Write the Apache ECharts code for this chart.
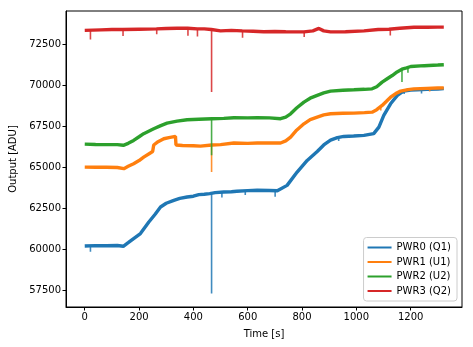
<!DOCTYPE html>
<html>
<head>
<meta charset="utf-8">
<script src="https://cdn.jsdelivr.net/npm/echarts@6/dist/echarts.min.js"></script>
<style>html,body{margin:0;padding:0;background:#fff}#c{width:473px;height:347px}</style>
</head>
<body>
<div id="c"></div>
<script>
var seriesNames = ['PWR0 (Q1)', 'PWR1 (U1)', 'PWR2 (U2)', 'PWR3 (Q2)'];
var xTicks = [0, 200, 400, 600, 800, 1000, 1200];
var yTicks = [57500, 60000, 62500, 65000, 67500, 70000, 72500];

// smooth trends (band)
var pwr0T = [0,40,80,120,142,160,180,205,236,260,279,300,328,350,377,400,420,440,460,480,512,540,560,600,635,680,709,745,782,819,856,880,905,930,954,990,1028,1064,1083,1101,1126,1151,1175,1200,1224,1260,1300,1322];
var pwr0V = [60200,60220,60210,60230,60180,60400,60650,60955,61660,62150,62575,62800,62980,63100,63180,63230,63330,63350,63390,63450,63490,63500,63530,63570,63590,63580,63560,63890,64700,65410,65950,66350,66650,66800,66870,66900,66935,67040,67440,68150,68860,69370,69640,69700,69710,69740,69760,69780];

var pwr1T = [0,40,80,120,144,160,180,200,217,240,250,254,270,291,310,334,336,360,400,426,468,500,549,600,635,680,721,740,758,780,807,830,856,880,905,950,991,1030,1058,1075,1095,1110,1126,1145,1163,1190,1212,1260,1300,1322];
var pwr1V = [65000,64990,64990,64980,64910,65050,65210,65400,65610,65850,65950,66350,66550,66730,66800,66870,66350,66320,66300,66280,66350,66370,66470,66450,66470,66480,66470,66600,66830,67250,67640,67900,68050,68180,68250,68280,68290,68320,68350,68500,68760,69000,69260,69480,69630,69720,69770,69800,69820,69830];

var pwr2T = [0,40,80,120,142,160,180,200,217,254,280,303,340,377,420,468,512,549,600,635,680,721,740,758,780,807,830,856,880,905,950,991,1030,1058,1075,1095,1115,1132,1150,1171,1185,1200,1250,1300,1322];
var pwr2V = [66400,66380,66370,66370,66330,66450,66630,66850,67040,67340,67530,67680,67800,67890,67920,67950,67970,68010,68000,68010,68000,67950,68050,68250,68600,68960,69200,69370,69520,69630,69680,69710,69740,69770,69900,70180,70400,70580,70800,70990,71050,71130,71180,71220,71240];

var pwr3T = [0,60,100,140,200,264,300,340,379,414,440,466,500,540,580,620,659,700,740,782,807,840,862,880,905,960,1028,1080,1120,1160,1212,1260,1300,1322];
var pwr3V = [73330,73360,73380,73380,73400,73420,73440,73460,73460,73420,73420,73380,73300,73330,73300,73280,73250,73260,73250,73240,73240,73300,73450,73300,73240,73250,73300,73380,73400,73460,73520,73520,73530,73530];

// downward spikes: time, level before spike, lowest value
var spike0T = [21, 467, 505, 591, 701, 935, 1176, 1240];
var spike0B = [60200, 63390, 63480, 63560, 63560, 66820, 69660, 69720];
var spike0V = [59850, 57300, 63150, 63300, 63200, 66600, 69450, 69480];

var spike1T = [467, 1090, 1270];
var spike1B = [66300, 68700, 69800];
var spike1V = [64700, 68450, 69600];

var spike2T = [467, 1168, 1190];
var spike2B = [67950, 70950, 71060];
var spike2V = [65720, 70180, 70750];

var spike3T = [21, 141, 265, 380, 415, 467, 581, 808, 1125];
var spike3B = [73340, 73380, 73420, 73460, 73420, 73380, 73300, 73240, 73400];
var spike3V = [72780, 72990, 73100, 73000, 72960, 69570, 72880, 72930, 73020];

var colors = ['#1f77b4', '#ff7f0e', '#2ca02c', '#d62728'];
function pairs(t, v) { return t.map(function (x, i) { return [x, v[i]]; }); }
function spikes(t, b, v) {
  var out = [];
  t.forEach(function (x, i) { out.push([x, b[i]], [x, v[i]], [x, b[i]], null); });
  return out;
}
var bandData = [pairs(pwr0T, pwr0V), pairs(pwr1T, pwr1V), pairs(pwr2T, pwr2V), pairs(pwr3T, pwr3V)];
var spikeData = [spikes(spike0T, spike0B, spike0V), spikes(spike1T, spike1B, spike1V), spikes(spike2T, spike2B, spike2V), spikes(spike3T, spike3B, spike3V)];

var font = 'DejaVu Sans';
var chart = echarts.init(document.getElementById('c'), null, {renderer: 'canvas'});
var series = [];
seriesNames.forEach(function (n, i) {
  series.push({
    name: n, type: 'line', data: bandData[i], showSymbol: false, symbol: 'none',
    color: colors[i], lineStyle: {width: 3.4, color: colors[i]}, z: 2 + 2 * i
  });
  series.push({
    name: n, type: 'line', data: spikeData[i], showSymbol: false, symbol: 'none', connectNulls: false,
    color: colors[i], lineStyle: {width: 1.6, color: colors[i], opacity: 0.85}, z: 3 + 2 * i
  });
});
chart.setOption({
  animation: false,
  textStyle: {fontFamily: font},
  grid: {left: 65, top: 11, width: 397, height: 296, show: true, borderColor: '#000', borderWidth: 1, backgroundColor: 'transparent'},
  legend: {
    orient: 'vertical', right: 16, bottom: 46,
    data: seriesNames.map(function (n) { return {name: n, icon: 'rect'}; }),
    itemWidth: 24, itemHeight: 2, itemGap: 4.5,
    padding: [5, 6, 5, 4],
    borderColor: '#cccccc', borderWidth: 1, borderRadius: 3,
    backgroundColor: 'rgba(255,255,255,0.8)',
    textStyle: {fontFamily: font, fontSize: 10, color: '#000'}
  },
  xAxis: {
    type: 'value', min: -69, max: 1389,
    name: 'Time [s]', nameLocation: 'middle', nameGap: 22,
    nameTextStyle: {fontFamily: font, fontSize: 10, color: '#000'},
    axisLine: {show: true, onZero: false, lineStyle: {color: '#000', width: 1}},
    axisTick: {show: true, length: 3.5, customValues: xTicks, lineStyle: {color: '#000'}},
    axisLabel: {customValues: xTicks, formatter: function (v) { return String(v); }, fontFamily: font, fontSize: 10, color: '#000', margin: 5},
    splitLine: {show: false}
  },
  yAxis: {
    type: 'value', min: 56483, max: 74510,
    name: 'Output [ADU]', nameLocation: 'middle', nameGap: 48, nameRotate: 90,
    nameTextStyle: {fontFamily: font, fontSize: 10, color: '#000'},
    axisLine: {show: true, onZero: false, lineStyle: {color: '#000', width: 1}},
    axisTick: {show: true, length: 3.5, customValues: yTicks, lineStyle: {color: '#000'}},
    axisLabel: {customValues: yTicks, formatter: function (v) { return String(v); }, fontFamily: font, fontSize: 10, color: '#000', margin: 5},
    splitLine: {show: false}
  },
  series: series
});
</script>
</body>
</html>
